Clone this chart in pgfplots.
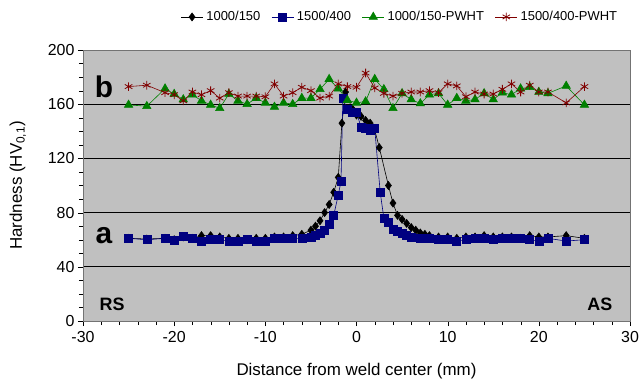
\documentclass[border=0pt]{standalone}
\usepackage{pgfplots}
\pgfplotsset{compat=1.18}
\usepackage{fontspec}
\setmainfont{Liberation Sans}
\definecolor{bg}{HTML}{C0C0C0}
\definecolor{navy}{HTML}{000080}
\definecolor{dgreen}{HTML}{008000}
\definecolor{dred}{HTML}{800000}
\begin{document}
\begin{tikzpicture}
\path[use as bounding box] (-83bp,-62bp) rectangle (558bp,321bp);
\begin{axis}[
 at={(0,0)}, anchor=south west,
 scale only axis, width=547bp, height=271bp,
 xmin=-30, xmax=30, ymin=0, ymax=200,
 xtick={-30,-20,...,30}, ytick={0,40,...,200},
 minor x tick num=4, minor y tick num=3,
 tick align=outside, xtick pos=bottom, ytick pos=left,
 major tick length=5bp, minor tick length=4bp,
 axis background/.style={fill=bg},
 ymajorgrids, grid style={black, line width=0.8pt},
 axis line style={draw=black!55},
 tick style={black},
 ticklabel style={font=\fontsize{16}{18}\selectfont},
 xticklabel style={yshift=-2bp},
 /pgf/number format/assume math mode=true,
 xlabel={Distance from weld center (mm)},
 ylabel={Hardness (HV\textsubscript{0,1})},
 label style={font=\fontsize{17}{19}\selectfont},
 xlabel style={at={(axis description cs:0.5,-0.185)}, anchor=center},
 ylabel style={at={(axis description cs:-0.119,0.5)}, anchor=center},
 legend columns=4,
 legend style={at={(0.98,1.122)}, anchor=east, draw=none, fill=none,
   font=\fontsize{13}{15}\selectfont, inner sep=0pt, outer sep=0pt,
   /tikz/every odd column/.append style={column sep=1bp},
   /tikz/every even column/.append style={column sep=9bp}},
 legend image code/.code={\draw[mark repeat=2,mark phase=2] plot coordinates {(0bp,0bp)(11bp,0bp)(22bp,0bp)};},
 every axis plot/.append style={line width=0.6pt},
]
\addplot[black, mark=diamond*, mark size=4bp] coordinates {
(-25,61)(-23,60.5)(-21,61)(-20,60)(-19,62)(-18,61)(-17,63)(-16,63)(-15,62)(-14,61)(-13,61)(-12,60)(-11,61)(-10,61)(-9,62)(-8,62)(-7,63)(-6,64)
(-5,67)(-4.5,70)(-4,74)(-3.5,80)(-3,86)(-2.5,95)(-2,106)(-1.6,146)(-1.2,169)(-0.5,157)(0,152)(0.5,151)(1,148)(1.5,146)(2,141)(2.5,128)(3.5,100)(4,87)(4.5,78)(5,75)(5.5,72)(6,69)(6.5,67)(7,65)(7.5,64)(8,63)
(9,62)(10,62)(11,61)(12,62)(13,62)(14,63)(15,62)(16,62)(17,62)(18,61)(19,63)(20,62)(21,62)(23,63)(25,61)
};
\addlegendentry{1000/150}
\addplot[navy, mark=square*, mark size=4bp] coordinates {
(-25,61)(-23,60)(-21,61)(-20,59.5)(-19,62.5)(-18,61)(-17,59)(-16,60)(-15,60)(-14,59)(-13,59)(-12,60)(-11,59)(-10,59)(-9,61)(-8,61)(-7,61)(-6,61)
(-5,62)(-4.5,63)(-4,65)(-3.5,67)(-3,71)(-2.5,78)(-2,93)(-1.7,103)(-1.5,164)(-1,156)(-0.5,154)(0,154)(0.5,143)(1,142)(1.5,141)(2,142)(2.6,95)(3,76)(3.5,73)(4,68)(4.5,66)(5,65)(5.5,63)(6,62)(7,61)(8,61)
(9,60)(10,60)(11,59)(12,60)(13,61)(14,61)(15,60)(16,61)(17,61)(18,61)(19,60)(20,59)(21,61)(23,59)(25,60)
};
\addlegendentry{1500/400}
\addplot[dgreen, mark=triangle*, mark size=4.8bp] coordinates {
(-25,159.5)(-23,158.5)(-21,171.5)(-20,167.5)(-19,163.5)(-18,167)(-17,162.5)(-16,159.5)(-15,157)(-14,167.5)(-13,162.5)(-12,160)(-11,164.5)(-10,161)(-9,158)(-8,161)(-7,160)(-6,164.5)(-5,164.5)(-4,171)(-3,178.5)(-2,171.5)(-1,163)(0,161)
(1,162)(2,178.5)(3,171)(4,157)(5,168)(6,163.5)(7,160.5)(8,167)(9,168)(10,159.5)(11,164.5)(12,162.5)(13,163.5)(14,168)(15,163.5)(16,168.5)(17,167)(18,171.5)(19,172.5)(20,169)(21,168)(23,173.5)(25,159.5)
};
\addlegendentry{1000/150-PWHT}
\addplot[dred, mark=asterisk, mark size=4.3bp, mark options={line width=0.8pt}] coordinates {
(-25,173)(-23,174)(-21,168.5)(-20,167)(-19,162.5)(-18,169)(-17,167)(-16,170)(-15,164.5)(-14,168.5)(-13,166)(-12,166)(-11,166)(-10,165.5)(-9,175)(-8,166)(-7,168.5)(-6,172.5)(-5,170)(-4,164.5)(-3,166)(-2,175)(-1,173)(0,172.5)
(1,183)(2,172)(3,168)(4,166)(5,168)(6,169)(7,169)(8,170)(9,168.5)(10,175)(11,173.5)(12,165.5)(13,169)(14,167.5)(15,167.5)(16,171)(17,175)(18,169)(19,174)(20,169)(21,169)(23,161)(25,173)
};
\addlegendentry{1500/400-PWHT}
\node[font=\fontsize{30}{32}\selectfont\bfseries] at (axis cs:-27.7,172.5) {b};
\node[font=\fontsize{30}{32}\selectfont\bfseries] at (axis cs:-27.7,63) {a};
\node[font=\fontsize{18}{20}\selectfont\bfseries] at (axis cs:-26.8,12) {RS};
\node[font=\fontsize{18}{20}\selectfont\bfseries] at (axis cs:26.7,12) {AS};
\end{axis}
\end{tikzpicture}
\end{document}
